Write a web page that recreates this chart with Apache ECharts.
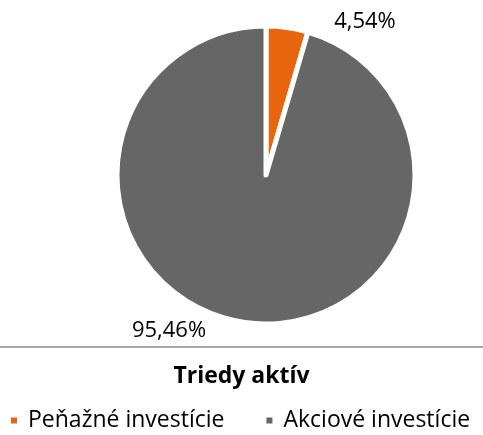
<!DOCTYPE html>
<html>
<head>
<meta charset="utf-8">
<script src="https://cdn.jsdelivr.net/npm/echarts@6/dist/echarts.min.js"></script>
<style>
  html, body { margin: 0; padding: 0; background: #fff; }
  #main { width: 483px; height: 435px; }
</style>
</head>
<body>
<div id="main"></div>
<script>
const categories = ['Peňažné investície', 'Akciové investície']
const values = [4.54, 95.46]
const labels = ['4,54%', '95,46%']
const colors = ['#E8650E', '#666666']
// label anchor points
const labelPos = [[365, 22], [169, 331]]

const chart = echarts.init(document.getElementById('main'))

const option = {
  animation: false,
  title: {
    text: 'Triedy aktív',
    left: 'center',
    top: 360,
    textStyle: {
      fontFamily: 'Open Sans',
      fontWeight: 'bold',
      fontSize: 23,
      color: '#000'
    }
  },
  legend: {
    top: 404,
    left: 4,
    icon: 'rect',
    itemWidth: 8,
    itemHeight: 8,
    itemGap: 40,
    textStyle: {
      fontFamily: 'Open Sans',
      fontSize: 23,
      color: '#000',
      padding: [0, 0, 0, 5]
    },
    data: categories
  },
  graphic: [
    {
      type: 'line',
      shape: { x1: 0, y1: 347, x2: 483, y2: 347 },
      style: { stroke: '#a6a6a6', lineWidth: 2 }
    }
  ],
  series: [
    {
      type: 'pie',
      center: [266, 175],
      radius: 149,
      startAngle: 90,
      clockwise: true,
      itemStyle: {
        borderColor: '#fff',
        borderWidth: 5
      },
      label: {
        show: true,
        position: 'outside',
        fontFamily: 'Open Sans',
        fontSize: 22,
        color: '#000',
        formatter: p => labels[p.dataIndex]
      },
      labelLine: { show: false },
      labelLayout: p => ({
        x: labelPos[p.dataIndex][0],
        y: labelPos[p.dataIndex][1],
        align: 'center',
        verticalAlign: 'middle'
      }),
      emphasis: { disabled: true },
      data: categories.map((name, i) => ({
        name: name,
        value: values[i],
        itemStyle: { color: colors[i] }
      }))
    }
  ]
}

chart.setOption(option)
</script>
</body>
</html>
